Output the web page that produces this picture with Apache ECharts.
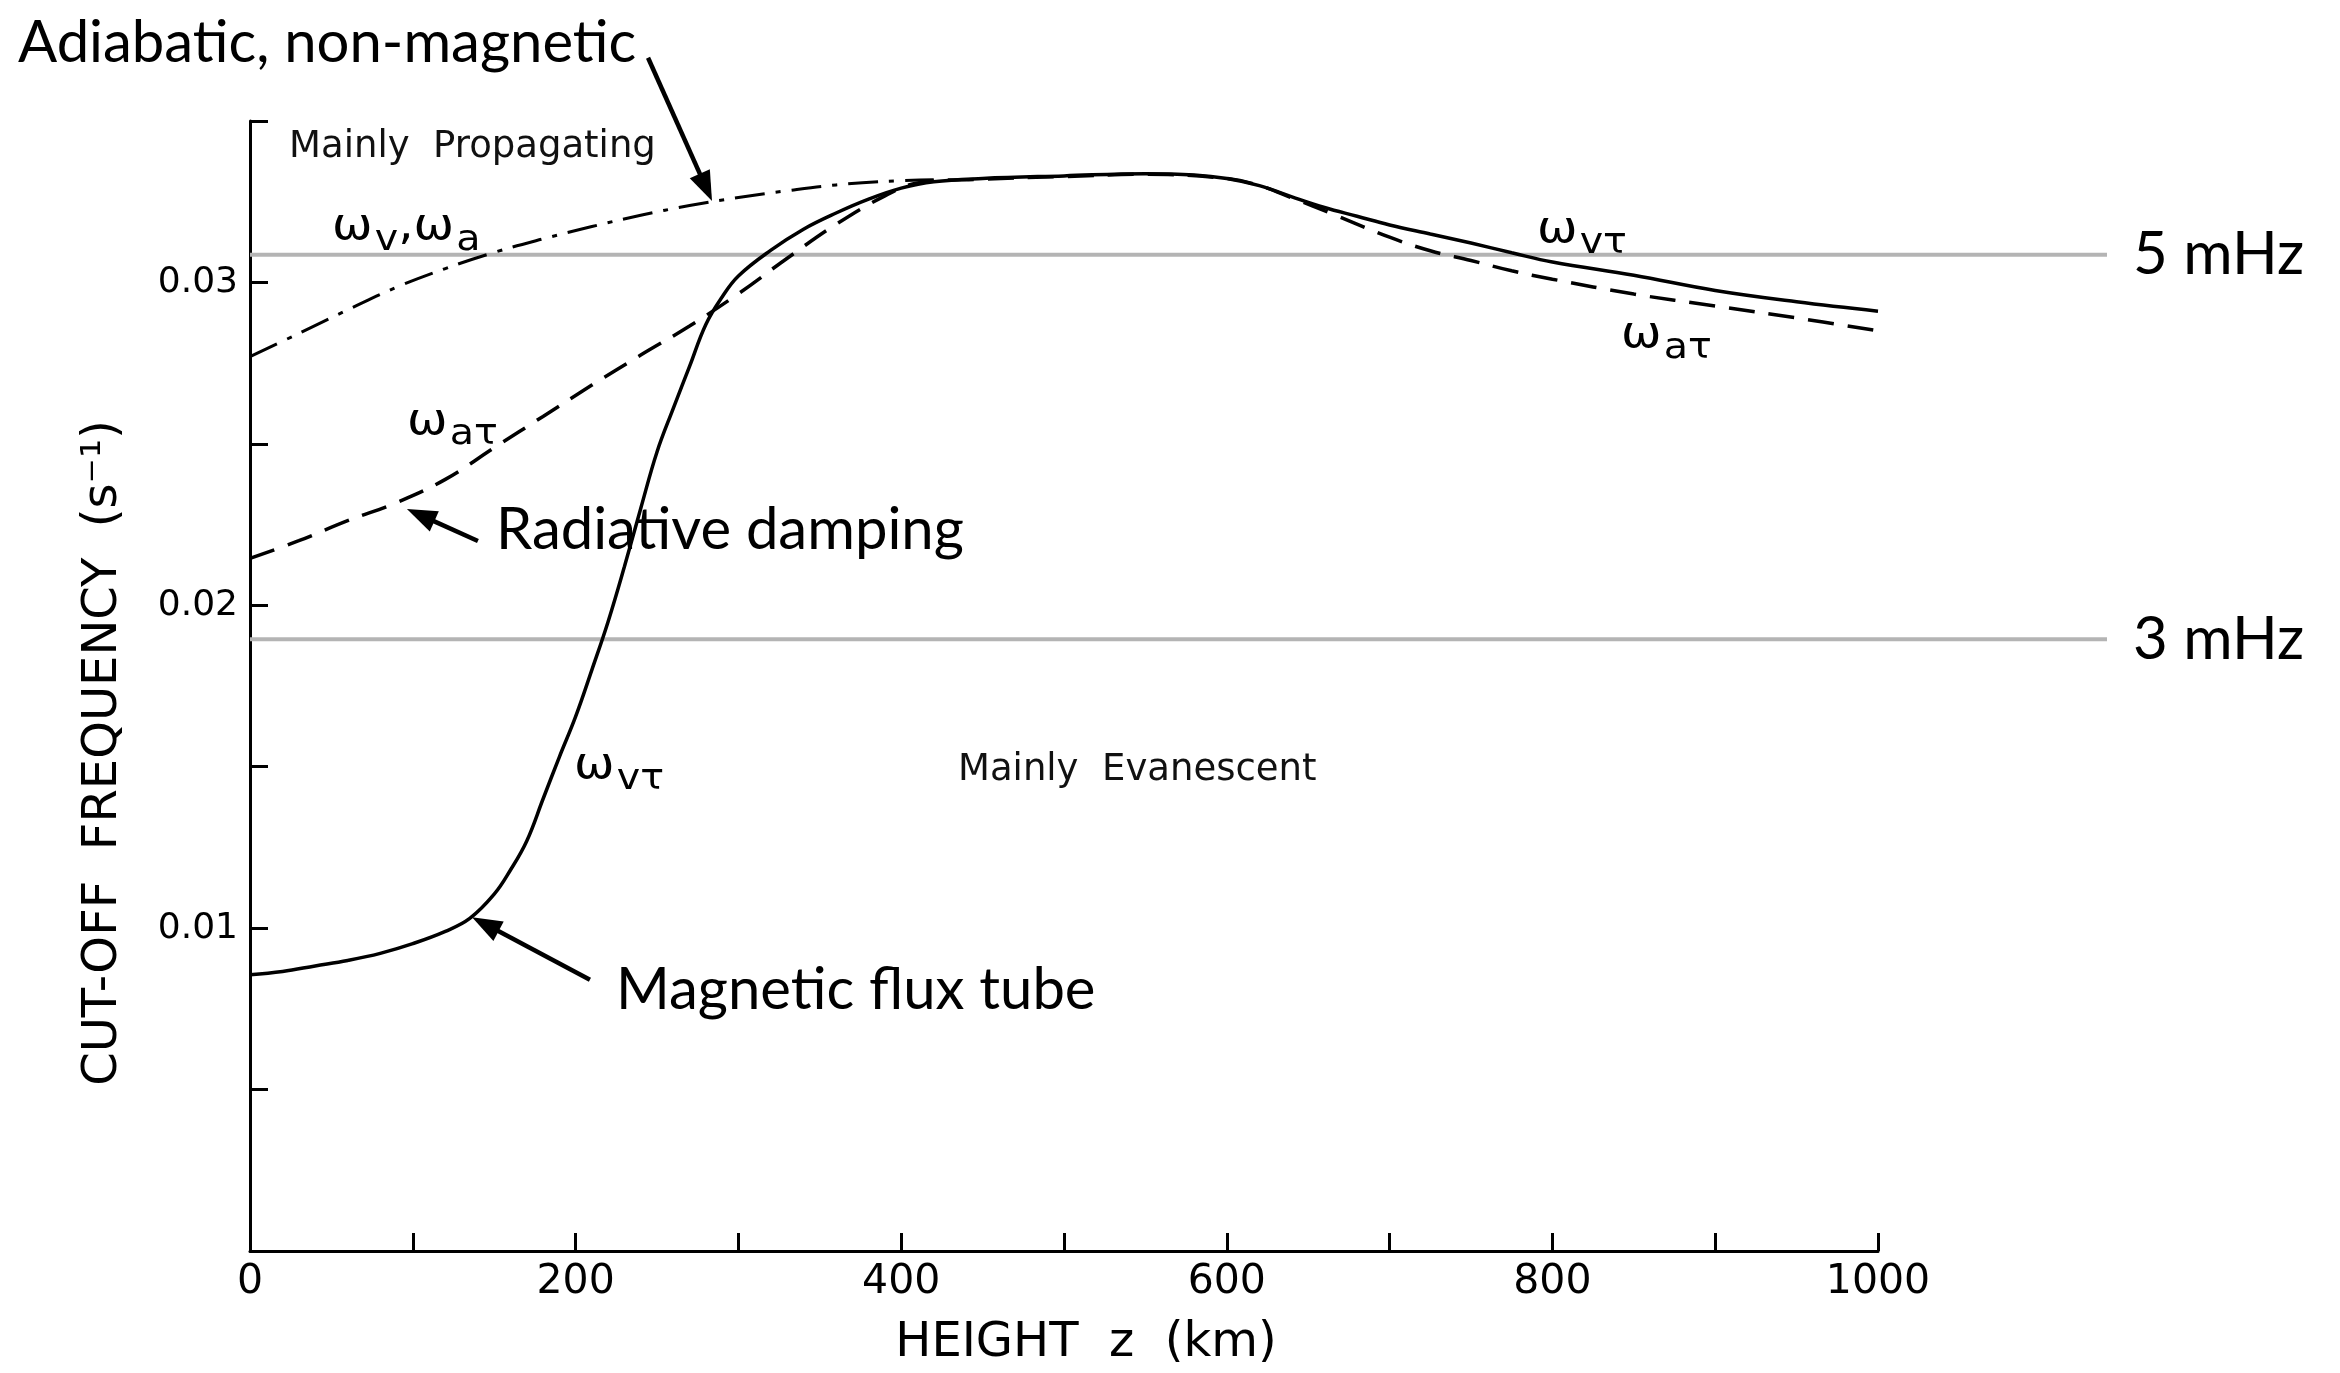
<!DOCTYPE html>
<html><head><meta charset="utf-8">
<script src="https://cdn.jsdelivr.net/npm/echarts@6/dist/echarts.min.js"></script>
<style>html,body{margin:0;padding:0;background:#fff}#c{width:2340px;height:1373px}</style>
</head><body><div id="c"></div>
<script>
// ---------- data ----------
// Magnetic flux tube, omega_v_tau (solid)
const fluxTubeHeight = [0,20,40,60,80,100,120,135,150,160,170,180,190,200,210,220,230,240,250,260,270,280,290,300,320,340,360,380,400,420,450,500,550,580,600,620,640,660,680,700,725,750,775,800,850,900,950,1000];
const fluxTubeFreq = [0.00856,0.00866,0.00883,0.00900,0.00922,0.00952,0.00990,0.01030,0.01105,0.01180,0.01270,0.01400,0.01530,0.01655,0.01800,0.01950,0.02120,0.02300,0.02475,0.02610,0.02740,0.02870,0.02955,0.03020,0.03100,0.03165,0.03215,0.03258,0.03292,0.03312,0.03322,0.03330,0.03337,0.03333,0.03322,0.03300,0.03265,0.03232,0.03205,0.03178,0.03150,0.03122,0.03092,0.03063,0.03022,0.02975,0.02940,0.02911];
// Radiative damping, omega_a_tau (dashed)
const radiativeHeight = [0,30,60,90,120,150,180,210,240,270,300,330,360,390,410,450,500,550,600,620,640,665,700,725,750,775,800,850,900,950,1000];
const radiativeFreq = [0.02145,0.02200,0.02262,0.02318,0.02390,0.02488,0.02585,0.02682,0.02775,0.02865,0.02965,0.03075,0.03180,0.03268,0.03308,0.03320,0.03328,0.03335,0.03322,0.03300,0.03262,0.03212,0.03140,0.03098,0.03068,0.03036,0.03010,0.02964,0.02927,0.02890,0.02850];
// Adiabatic, non-magnetic, omega_v / omega_a (dash-dot)
const adiabaticHeight = [0,30,60,90,120,150,180,210,240,270,300,330,360,390,420];
const adiabaticFreq = [0.02770,0.02842,0.02915,0.02985,0.03043,0.03093,0.03135,0.03173,0.03208,0.03238,0.03263,0.03284,0.03302,0.03313,0.03318];
// Reference frequencies (grey lines)
const refLabels = ['5 mHz','3 mHz'];
const refValues = [0.0309, 0.0191];
// Tick labels
const xTickLabels = ['0','200','400','600','800','1000'];
const yTickLabels = ['0.01','0.02','0.03'];

// annotation texts (positions in data coordinates)
const calloutTexts = ['Adiabatic, non-magnetic','Radiative damping','Magnetic flux tube'];
const calloutTextAt = [[-142.5,0.03742],[151.1,0.02233],[224.8,0.00807]];
const calloutArrowFrom = [[244.5,0.03696],[140.0,0.02199],[208.8,0.00840]];
const calloutArrowTo = [[283.8,0.03252],[96.4,0.02298],[136.4,0.01034]];
const regionTexts = ['Mainly  Propagating','Mainly  Evanescent'];
const regionTextAt = [[24.0,0.03417],[434.9,0.01488]];
const curveLabels = ['{w|ω}{s|v}{w|,ω}{s|a}','{w|ω}{s|aτ}','{w|ω}{s|vτ}','{w|ω}{s|vτ}','{w|ω}{s|aτ}'];
const curveLabelAt = [[50.4,0.03123],[96.4,0.02521],[199,0.01454],[790.5,0.03113],[842.1,0.02788]];

// ---------- chart ----------
const W = 2340, H = 1373;
const plot = {left:250, right:462, top:121, bottom:111};
const refRight = 233;
const xMax = 1000, yMax = 0.035;
const refMax = xMax * (W - plot.left - refRight) / (W - plot.left - plot.right);

const zip = (a,b) => a.map((v,i)=>[v,b[i]]);
const chart = echarts.init(document.getElementById('c'), null, {renderer:'canvas', width:W, height:H});

const refSeries = refValues.map((v,i)=>({
  type:'line', xAxisIndex:1, yAxisIndex:1, z:1, silent:true, symbol:'none',
  data:[[0,v],[refMax,v]],
  lineStyle:{color:'#b4b4b4', width:4},
  endLabel:{show:true, formatter:refLabels[i], color:'#000', fontFamily:'Lato', fontSize:60, distance:26}
}));

const option = {
  animation:false,
  backgroundColor:'#fff',
  grid:[
    {left:plot.left, right:plot.right, top:plot.top, bottom:plot.bottom},
    {left:plot.left, right:refRight, top:plot.top, bottom:plot.bottom}
  ],
  xAxis:[
    {type:'value', gridIndex:0, min:0, max:xMax, interval:100,
     name:'HEIGHT  z  (km)', nameLocation:'middle', nameGap:69, nameMoveOverlap:false,
     nameTextStyle:{color:'#000', fontFamily:'"DejaVu Sans"', fontSize:48, padding:[0,0,0,44]},
     axisLine:{lineStyle:{color:'#000', width:3}},
     axisTick:{inside:true, length:18, lineStyle:{color:'#000', width:3}},
     axisLabel:{color:'#000', fontFamily:'"DejaVu Sans"', fontSize:41, margin:11,
       formatter:(v)=>{ const s=String(Math.round(v)); return xTickLabels.includes(s)?s:''; }},
     splitLine:{show:false}},
    {type:'value', gridIndex:1, min:0, max:refMax, show:false}
  ],
  yAxis:[
    {type:'value', gridIndex:0, min:0, max:yMax, interval:0.005,
     name:'CUT-OFF  FREQUENCY  (s⁻¹)', nameLocation:'middle', nameGap:122, nameMoveOverlap:false,
     nameTextStyle:{color:'#000', fontFamily:'"DejaVu Sans"', fontSize:48, padding:[0,134,0,0]},
     axisLine:{lineStyle:{color:'#000', width:3}},
     axisTick:{inside:true, length:18, lineStyle:{color:'#000', width:3}},
     axisLabel:{color:'#000', fontFamily:'"DejaVu Sans"', fontSize:36, margin:12,
       formatter:(v)=>{ const s=v.toFixed(2); return (Math.abs(v*100-Math.round(v*100))<1e-6 && yTickLabels.includes(s))?s:''; }},
     splitLine:{show:false}},
    {type:'value', gridIndex:1, min:0, max:yMax, show:false}
  ],
  series:[
    ...refSeries,
    {type:'line', name:'Magnetic flux tube', xAxisIndex:0, yAxisIndex:0, z:4, symbol:'none',
     smooth:0.4, data:zip(fluxTubeHeight, fluxTubeFreq),
     lineStyle:{color:'#000', width:3.5}},
    {type:'line', name:'Radiative damping', xAxisIndex:0, yAxisIndex:0, z:3, symbol:'none',
     smooth:0.4, data:zip(radiativeHeight, radiativeFreq),
     lineStyle:{color:'#000', width:3.5, type:[26,14]}},
    {type:'line', name:'Adiabatic, non-magnetic', xAxisIndex:0, yAxisIndex:0, z:3, symbol:'none',
     smooth:0.4, data:zip(adiabaticHeight, adiabaticFreq),
     lineStyle:{color:'#000', width:3, type:[30,11,5,11]}}
  ]
};
chart.setOption(option);

// ---------- annotations placed through the axes ----------
const px = (pt) => chart.convertToPixel({gridIndex:0}, pt);
const graphics = [];
function arrow(from, to){
  const p0 = px(from), p1 = px(to);
  const dx=p1[0]-p0[0], dy=p1[1]-p0[1], L=Math.hypot(dx,dy), ux=dx/L, uy=dy/L;
  const hl=30, hw=11, bx=p1[0]-ux*hl, by=p1[1]-uy*hl;
  graphics.push({type:'line', z:10, shape:{x1:p0[0],y1:p0[1],x2:bx+ux*3,y2:by+uy*3}, style:{stroke:'#000', lineWidth:4.5}});
  graphics.push({type:'polygon', z:10, shape:{points:[[p1[0],p1[1]],[bx-uy*hw,by+ux*hw],[bx+uy*hw,by-ux*hw]]}, style:{fill:'#000'}});
}
calloutTexts.forEach((t,i)=>{
  const p = px(calloutTextAt[i]);
  graphics.push({type:'text', z:10, x:p[0], y:p[1], style:{text:t, fill:'#000', font:'58px Lato', textAlign:'left', textVerticalAlign:'middle'}});
  arrow(calloutArrowFrom[i], calloutArrowTo[i]);
});
regionTexts.forEach((t,i)=>{
  const p = px(regionTextAt[i]);
  graphics.push({type:'text', z:10, x:p[0], y:p[1], style:{text:t, fill:'#111', font:'37px "DejaVu Sans"', textAlign:'left', textVerticalAlign:'middle'}});
});
curveLabels.forEach((t,i)=>{
  const p = px(curveLabelAt[i]); // left end of omega, on its baseline
  graphics.push({type:'text', z:10, x:p[0], y:p[1]-37, scaleX:1.1, style:{
    text:t, fill:'#000', textAlign:'left', textVerticalAlign:'top',
    rich:{
      w:{fontFamily:'DejaVu Sans', fontSize:44, lineHeight:44, verticalAlign:'top', fill:'#000'},
      s:{fontFamily:'DejaVu Sans', fontSize:36, lineHeight:36, verticalAlign:'top', padding:[17,0,0,2], fill:'#000'}
    }}});
});
chart.setOption({graphic:graphics});
</script></body></html>
